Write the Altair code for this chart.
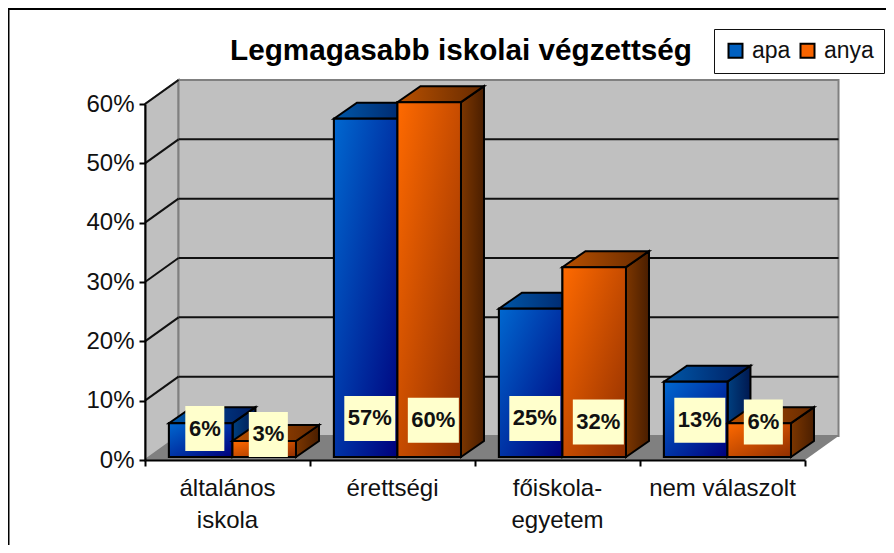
import altair as alt
import pandas as pd

# ---- chart values ----
categories = ["általános\niskola", "érettségi", "főiskola-\negyetem", "nem válaszolt"]
apa = [5.7, 57.0, 25.0, 12.7]
anya = [2.7, 59.8, 32.0, 5.7]
series = ["apa", "anya"]
ticks = [0, 10, 20, 30, 40, 50, 60]
title = "Legmagasabb iskolai végzettség"

# ---- layout, in axis units ----
UNIT_PX = 164.9
PCT_PX = 356 / 60
WALL_DX, WALL_DY = 33.5 / UNIT_PX, 24 / PCT_PX
BAR_DX, BAR_DY = 23 / UNIT_PX, 16 / PCT_PX
BAR_START, BAR_W, BAR_BASE = 0.145, 0.385, 3 / PCT_PX
LABEL_SHIFT = 0.025
LABEL_H = 45 / PCT_PX
label_levels = {"apa": [5.3, 7.0, 7.0, 6.7], "anya": [4.3, 6.7, 6.4, 6.4]}

FONT = "Liberation Sans"
xs = alt.Scale(domain=[0, 4], nice=False, zero=False)
ys = alt.Scale(domain=[0, 60], nice=False, zero=False)
x_axis = alt.Axis(
    values=list(range(5)), labels=False, title=None, grid=False, orient="bottom",
    domainColor="black", domainWidth=2, tickColor="black", tickWidth=2, tickSize=6, zindex=1)
y_axis = alt.Axis(
    values=ticks, labelExpr="datum.value + '%'", title=None, grid=False, orient="left",
    domainColor="black", domainWidth=2, tickColor="black", tickWidth=2, tickSize=6,
    labelFont=FONT, labelFontSize=24, labelColor="#111111", labelPadding=5, zindex=1)
X = alt.X("x:Q", scale=xs, axis=x_axis)
Y = alt.Y("y:Q", scale=ys, axis=y_axis, stack=None)
X2 = alt.X2("x2:Q")
Y2 = alt.Y2("y2:Q")


def grad(*stops, x2=1, y2=1):
    n = len(stops) - 1
    return alt.Gradient(
        gradient="linear", x1=0, y1=0, x2=x2, y2=y2,
        stops=[alt.GradientStop(color=c, offset=i / n) for i, c in enumerate(stops)],
    )


GRAD = {
    "apa": dict(front=grad("#0068D0", "#00007C"), top=grad("#0058A8", "#001C60", y2=0),
                side=grad("#004080", "#001850", y2=0)),
    "anya": dict(front=grad("#FF6A00", "#8F2E00"), top=grad("#B85000", "#662A00", y2=0),
                 side=grad("#7C3600", "#4A1E00", y2=0)),
}

front, side, top, labels = [], [], [], []
for s, values in zip(series, (apa, anya)):
    off = 0 if s == "apa" else BAR_W
    for i, v in enumerate(values):
        a = i + BAR_START + off
        b = a + BAR_W
        lo, hi = BAR_BASE, BAR_BASE + v
        sid = f"{s}{i}"
        front.append(dict(id=sid, s=s, x=a, x2=b, y=lo, y2=hi))
        side += [dict(id=sid, s=s, x=b, y=lo, y2=hi),
                 dict(id=sid, s=s, x=b + BAR_DX, y=lo + BAR_DY, y2=hi + BAR_DY)]
        top += [dict(id=sid, s=s, x=a, y=hi, y2=hi),
                dict(id=sid, s=s, x=a + BAR_DX, y=hi, y2=hi + BAR_DY),
                dict(id=sid, s=s, x=b, y=hi, y2=hi + BAR_DY),
                dict(id=sid, s=s, x=b + BAR_DX, y=hi + BAR_DY, y2=hi + BAR_DY)]
        text = f"{round(v)}%"
        half = (39 if len(text) == 2 else 51) / 2 / UNIT_PX
        cx = (a + b) / 2 + LABEL_SHIFT
        lv = label_levels[s][i]
        labels.append(dict(x=cx - half, x2=cx + half, xc=cx, y=lv - LABEL_H / 2,
                           y2=lv + LABEL_H / 2, yc=lv, text=text))
front, side, top, labels = map(pd.DataFrame, (front, side, top, labels))

# ---- walls, floor, gridlines ----
left_wall = pd.DataFrame([dict(x=0, y=0, y2=60), dict(x=WALL_DX, y=WALL_DY, y2=60 + WALL_DY)])
back_wall = pd.DataFrame([dict(x=WALL_DX, x2=4 + WALL_DX, y=WALL_DY, y2=60 + WALL_DY)])
floor = pd.DataFrame([dict(x=0, y=0, y2=0), dict(x=WALL_DX, y=0, y2=WALL_DY),
                      dict(x=4, y=0, y2=WALL_DY), dict(x=4 + WALL_DX, y=WALL_DY, y2=WALL_DY)])
grid_back = pd.DataFrame([dict(x=WALL_DX, x2=4 + WALL_DX, y=t + WALL_DY, y2=t + WALL_DY) for t in ticks[1:-1]])
grid_side = pd.DataFrame([dict(x=0, x2=WALL_DX, y=t, y2=t + WALL_DY) for t in ticks[1:]])
cat_df = pd.DataFrame(dict(x=[i + 0.5 for i in range(len(categories))], y=[0] * len(categories), text=categories))
frame = pd.DataFrame(dict(k=[0]))


def area(df, **kw):
    return alt.Chart(df).mark_area(**kw).encode(x=X, y=Y, y2=Y2)


layers = [
    alt.Chart(frame).mark_rule(color="black", strokeWidth=2).encode(
        x=alt.value(-137), x2=alt.value(741), y=alt.value(-95)),
    alt.Chart(frame).mark_rule(color="black", strokeWidth=2).encode(
        x=alt.value(-136.5), y=alt.value(-96), y2=alt.value(441)),
    area(left_wall, color="#C0C0C0", stroke="#808080", strokeWidth=2),
    alt.Chart(back_wall).mark_rect(color="#C0C0C0", stroke="#808080", strokeWidth=2).encode(x=X, x2=X2, y=Y, y2=Y2),
    area(floor, color="#808080"),
    alt.Chart(grid_back).mark_rule(color="#111111", strokeWidth=2).encode(x=X, x2=X2, y=Y),
    alt.Chart(grid_side).mark_rule(color="#111111", strokeWidth=2).encode(x=X, x2=X2, y=Y, y2=Y2),
]

flat_front = alt.Chart(front).mark_rect(stroke="black", strokeWidth=2).encode(
    x=X, x2=X2, y=Y, y2=Y2,
    color=alt.Color("s:N", scale=alt.Scale(domain=series, range=["#0060C0", "#F86400"]), legend=alt.Legend(
        title=None, orient="none", legendX=569, legendY=-75, direction="horizontal", columns=2,
        fillColor="white", strokeColor="#111111", padding=10, symbolType="square", symbolSize=196,
        symbolStrokeColor="black", symbolStrokeWidth=2, labelFont=FONT, labelFontSize=23,
        labelColor="#111111", labelOffset=5, columnPadding=5, labelLimit=100,
    )),
)

for s in series:
    layers.append(alt.Chart(side[side.s == s]).mark_area(
        color=GRAD[s]["side"], stroke="black", strokeWidth=2).encode(x=X, y=Y, y2=Y2, detail="id:N"))
    layers.append(alt.Chart(top[top.s == s]).mark_area(
        color=GRAD[s]["top"], stroke="black", strokeWidth=2).encode(x=X, y=Y, y2=Y2, detail="id:N"))
    sub = front[front.s == s]
    if s == "apa":
        layers.append(flat_front)
    layers.append(alt.Chart(sub).mark_rect(
        color=GRAD[s]["front"], stroke="black", strokeWidth=2).encode(x=X, x2=X2, y=Y, y2=Y2))

layers += [
    alt.Chart(labels).mark_rect(color="#FFFFCC").encode(x=X, x2=X2, y=Y, y2=Y2),
    alt.Chart(labels).mark_text(font=FONT, fontWeight="bold", fontSize=22, color="#111111").encode(
        x=alt.X("xc:Q", scale=xs, axis=x_axis), y=alt.Y("yc:Q", scale=ys, axis=y_axis), text="text:N"),
    alt.Chart(cat_df).mark_text(font=FONT, fontSize=24, color="#111111", baseline="top", dy=17,
                                lineBreak="\n", lineHeight=32).encode(x=X, y=Y, text="text:N"),
]

chart = alt.layer(*layers).properties(
    width=660, height=356,
    padding=alt.Padding(left=137, top=96, right=81, bottom=85),
    autosize=alt.AutoSizeParams(type="none"),
    title=alt.TitleParams(title, font=FONT, fontSize=29.7, fontWeight="bold", color="black",
                          anchor="middle", dx=-14, offset=0, dy=60),
).configure_view(stroke=None)

chart.save("out.html", embed_options={"renderer": "svg", "actions": False})
